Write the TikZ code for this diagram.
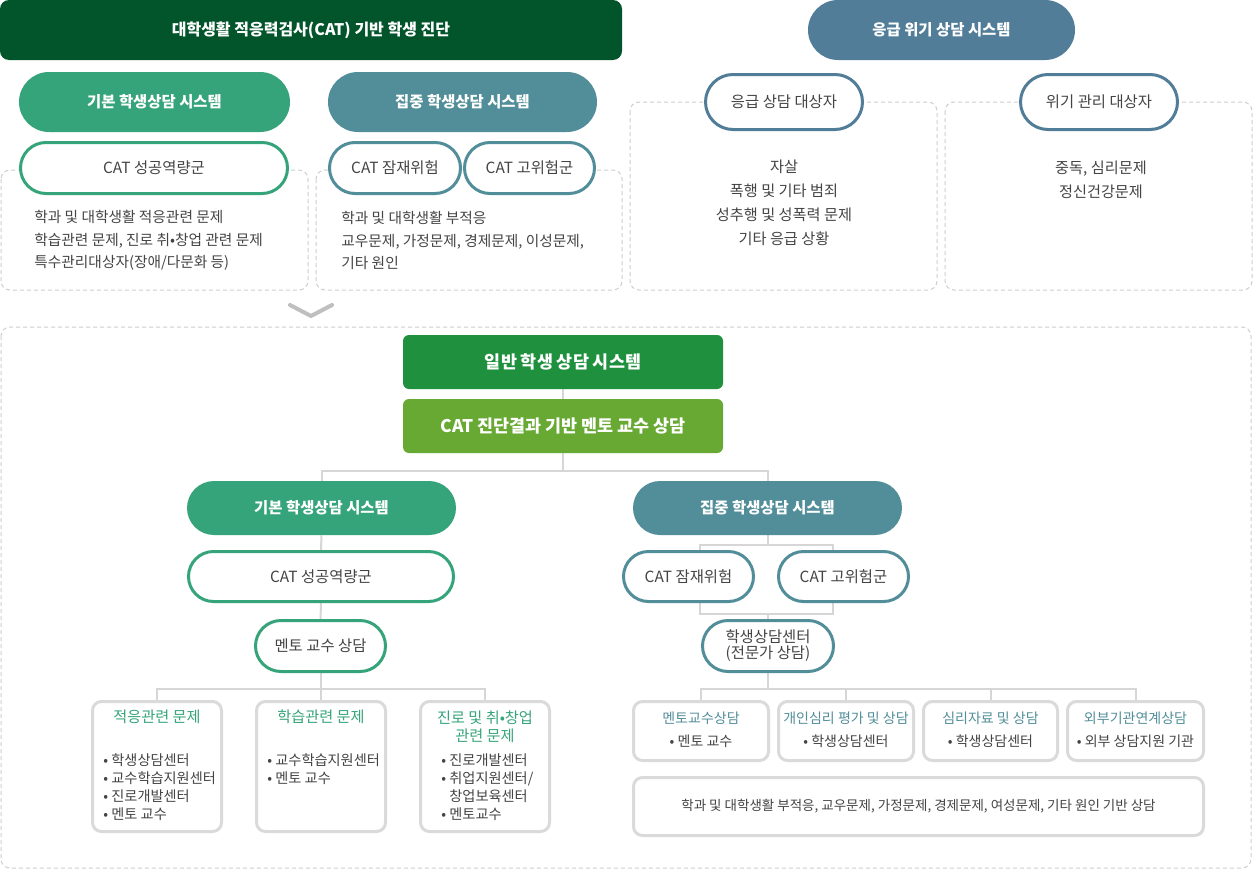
\documentclass[tikz,border=0pt]{standalone}
\usepackage{fontspec}
\setmainfont{Noto Sans CJK KR}
\usetikzlibrary{shapes.misc,backgrounds}

\definecolor{cathead}{RGB}{2,84,42}
\definecolor{crisisblue}{RGB}{81,125,152}
\definecolor{basicgreen}{RGB}{54,164,122}
\definecolor{focusteal}{RGB}{82,142,153}
\definecolor{generalgreen}{RGB}{31,145,62}
\definecolor{mentorlime}{RGB}{103,169,50}
\definecolor{linegray}{RGB}{214,214,214}
\definecolor{boxgray}{RGB}{218,218,218}
\definecolor{dashgray}{RGB}{206,206,206}
\definecolor{txtgray}{RGB}{68,68,68}

\newcommand{\fsize}[2]{\fontsize{#1}{#2}\selectfont}

\begin{document}
\begin{tikzpicture}[x=1pt,y=-1pt,line width=0.8pt]
\tikzset{headbox/.style={rectangle,rounded corners=9pt,fill=#1,text=white,
    font=\fsize{16}{19}\bfseries,inner sep=0pt},
  pillfill/.style={rounded rectangle,fill=#1,text=white,
    font=\fsize{15.4}{18}\bfseries,minimum height=54pt,inner sep=0pt},
  pillline/.style={rounded rectangle,draw=#1,line width=3pt,fill=white,
    text=txtgray,font=\fsize{15.4}{18},minimum height=51pt,inner sep=0pt},
  dashbox/.style={draw=dashgray,line width=1pt,dash pattern=on 4pt off 3pt,
    rounded corners=9pt},
  listbox/.style={rectangle,draw=boxgray,line width=3pt,fill=white,
    rounded corners=9pt,inner sep=0pt},
  boxtitle/.style={text=#1,font=\fsize{15.2}{18.5},align=center,inner sep=0pt},
  boxlist/.style={text=txtgray,font=\fsize{14.2}{18},align=left,anchor=west,inner sep=0pt},
  bodytext/.style={text=txtgray,font=\fsize{14.7}{22.5},inner sep=0pt},
  link/.style={draw=linegray,line width=2pt}}
\useasboundingbox (0,0) rectangle (1253,870);
% ---------- CAT diagnosis ----------
\draw[dashbox] (1,170) rectangle (308,290);
\draw[dashbox] (316,170) rectangle (622,290);
\node[headbox=cathead,minimum width=622pt,minimum height=60pt] (diag) at (311,30)
  {대학생활 적응력검사(CAT) 기반 학생 진단};
\node[pillfill=basicgreen,minimum width=271pt,minimum height=60pt] (basicA) at (154.5,102)
  {기본 학생상담 시스템};
\node[pillfill=focusteal,minimum width=269pt,minimum height=60pt] (focusA) at (462.5,102)
  {집중 학생상담 시스템};
\node[pillline=basicgreen,minimum width=267pt] (succA) at (154,168) {CAT 성공역량군};
\node[pillline=focusteal,minimum width=131pt] (riskA) at (395,168) {CAT 잠재위험};
\node[pillline=focusteal,minimum width=130pt] (highA) at (529.5,168) {CAT 고위험군};
\node[bodytext,align=left,anchor=west] (issueA) at (34,240.5)
  {학과 및 대학생활 적응관련 문제\\학습관련 문제, 진로 취•창업 관련 문제\\특수관리대상자(장애/다문화 등)};
\node[bodytext,align=left,anchor=west] (issueB) at (341,240.5)
  {학과 및 대학생활 부적응\\교우문제, 가정문제, 경제문제, 이성문제,\\기타 원인};
% ---------- crisis counselling ----------
\draw[dashbox] (630,102) rectangle (937,290);
\draw[dashbox] (945,102) rectangle (1252,290);
\node[pillfill=crisisblue,minimum width=267pt,minimum height=60pt] (crisis) at (941.5,30)
  {응급 위기 상담 시스템};
\node[pillline=crisisblue,minimum width=157pt,minimum height=55pt] (emerg) at (784,102)
  {응급 상담 대상자};
\node[pillline=crisisblue,minimum width=157pt,minimum height=55pt] (manage) at (1099,102)
  {위기 관리 대상자};
\node[bodytext,align=center,font=\fsize{15.2}{24}] (emergA) at (784,203)
  {자살\\폭행 및 기타 범죄\\성추행 및 성폭력 문제\\기타 응급 상황};
\node[bodytext,align=center,font=\fsize{15.2}{24}] (manageA) at (1101,180)
  {중독, 심리문제\\정신건강문제};
\draw[draw=gray!50,line width=4pt,line cap=round,line join=round]
  (290,305) -- (311,316) -- (332,305);
% ---------- general counselling ----------
\draw[dashbox] (1,327) rectangle (1251,868);
\node[headbox=generalgreen,font=\fsize{17.4}{20}\bfseries,rounded corners=6pt,
  minimum width=320pt,minimum height=54pt] (general) at (563,362) {일반 학생 상담 시스템};
\node[headbox=mentorlime,font=\fsize{17.4}{20}\bfseries,rounded corners=6pt,
  minimum width=320pt,minimum height=54pt] (mentorcat) at (563,426)
  {CAT 진단결과 기반 멘토 교수 상담};
% left branch
\node[pillfill=basicgreen,minimum width=269pt] (basic) at (321.5,508) {기본 학생상담 시스템};
\node[pillline=basicgreen,minimum width=265pt,minimum height=50pt] (succ) at (321,576.5)
  {CAT 성공역량군};
\node[pillline=basicgreen,minimum width=130pt] (mentor) at (320.5,646) {멘토 교수 상담};
\node[listbox,minimum width=129pt,minimum height=130pt] (issue1) at (157,766.5) {};
\node[listbox,minimum width=129pt,minimum height=130pt] (issue2) at (321,766.5) {};
\node[listbox,minimum width=129pt,minimum height=130pt] (issue3) at (485,766.5) {};
\node[boxtitle=basicgreen] (title1) at (157,717) {적응관련 문제};
\node[boxtitle=basicgreen] (title2) at (321,717) {학습관련 문제};
\node[boxtitle=basicgreen] (title3) at (485,727) {진로 및 취•창업\\관련 문제};
\node[boxlist] (list1) at (103,787)
  {• 학생상담센터\\• 교수학습지원센터\\• 진로개발센터\\• 멘토 교수};
\node[boxlist] (list2) at (267,769) {• 교수학습지원센터\\• 멘토 교수};
\node[boxlist] (list3) at (441,787)
  {• 진로개발센터\\• 취업지원센터/\\\hphantom{• }창업보육센터\\• 멘토교수};
% right branch
\node[pillfill=focusteal,minimum width=269pt] (focus) at (767.5,508) {집중 학생상담 시스템};
\node[pillline=focusteal,minimum width=130pt,minimum height=50pt] (risk) at (688.5,576.5)
  {CAT 잠재위험};
\node[pillline=focusteal,minimum width=130pt,minimum height=50pt] (high) at (843.5,576.5)
  {CAT 고위험군};
\node[pillline=focusteal,minimum width=131pt,font=\fsize{15.4}{16},align=center] (center)
  at (768,646) {학생상담센터\\(전문가 상담)};
\node[listbox,minimum width=135pt,minimum height=59pt] (c1) at (701,731) {};
\node[listbox,minimum width=135pt,minimum height=59pt] (c2) at (846,731) {};
\node[listbox,minimum width=134pt,minimum height=59pt] (c3) at (990.5,731) {};
\node[listbox,minimum width=136pt,minimum height=59pt] (c4) at (1135.5,731) {};
\foreach \b/\t/\s in {c1/멘토교수상담/멘토 교수,c2/개인심리 평가 및 상담/학생상담센터,
    c3/심리자료 및 상담/학생상담센터,c4/외부기관연계상담/외부 상담지원 기관}{
  \node[boxtitle=focusteal,font=\fsize{14}{17}] (\b t) at ([yshift=13pt]\b.center) {\t};
  \node[text=txtgray,font=\fsize{14}{17}] (\b s) at ([yshift=-10pt]\b.center) {• \s};}
\node[listbox,minimum width=570pt,minimum height=58pt,text=txtgray,font=\fsize{13.5}{17}] (wide)
  at (918.5,806.5) {학과 및 대학생활 부적응, 교우문제, 가정문제, 경제문제, 여성문제, 기타 원인 기반 상담};
% ---------- connectors ----------
\coordinate (bracketL) at (700,545);
\coordinate (bracketR) at (833,614);
\begin{scope}[on background layer]
  \fill[white] (0,0) rectangle (1253,870);
  \draw[link] (general) -- (mentorcat);
  \draw[link] (mentorcat.south) -- ++(0,18) coordinate (split);
  \draw[link] (split) -| (basic.north);
  \draw[link] (split) -| (focus.north);
  \draw[link] (basic) -- (succ) -- (mentor);
  \draw[link] (mentor.south) -- ++(0,16) coordinate (hubL);
  \foreach \b in {issue1,issue2,issue3}
    \draw[link] (hubL) -| (\b.north);
  \draw[link] (bracketL) rectangle (bracketR);
  \draw[link] (focus.south) -- (focus.south |- bracketL);
  \draw[link] (center.north) -- (center.north |- bracketR);
  \draw[link] (center.south) -- ++(0,16) coordinate (hubR);
  \foreach \b in {c1,c2,c3,c4}
    \draw[link] (hubR) -| (\b.north);
\end{scope}
\end{tikzpicture}
\end{document}
